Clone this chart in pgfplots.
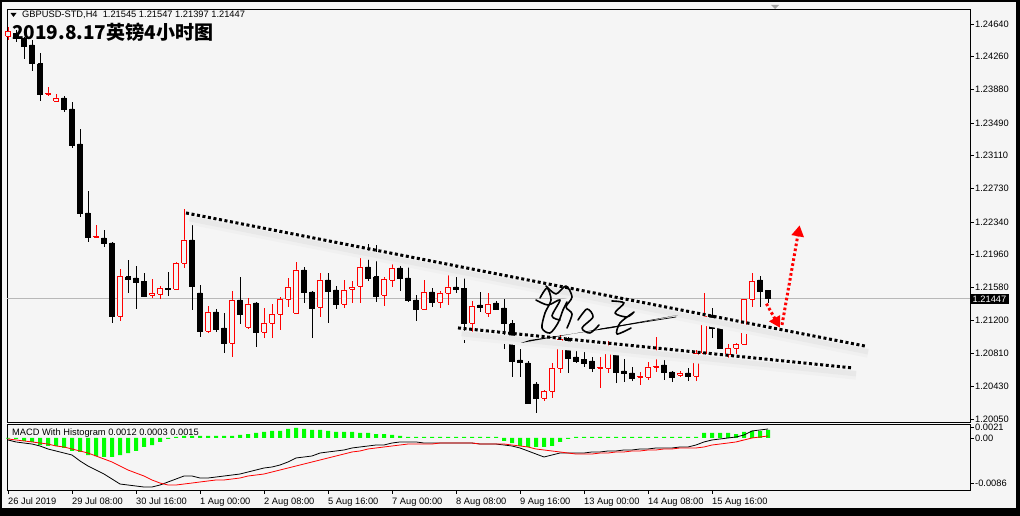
\documentclass[border=0pt]{standalone}
\usepackage{pgfplots}
\pgfplotsset{compat=1.18}
\usepackage{pgfplotstable}
\usepackage{fontspec}
\setmainfont{Liberation Sans}
\newfontfamily\cjk{Noto Sans CJK SC}
\usetikzlibrary{arrows.meta}
\definecolor{bgc}{RGB}{245,245,245}
\definecolor{candR}{RGB}{255,0,0}
\definecolor{lime}{RGB}{0,255,0}
\newcommand\tf{\fontsize{9.3}{10}\selectfont}
% candle: index, open, high, low, close
\newcommand{\candU}[5]{%
\addplot[candR, line width=0.8pt, forget plot] coordinates {(#1.5,#4) (#1.5,#3)};
\addplot[candR, line width=0.8pt, fill=bgc, forget plot] coordinates {(#1.22,#2) (#1.78,#2) (#1.78,#5) (#1.22,#5) (#1.22,#2)};}
\newcommand{\candD}[5]{%
\addplot[black, line width=0.8pt, forget plot] coordinates {(#1.5,#4) (#1.5,#3)};
\addplot[black, line width=0.8pt, fill=black, forget plot] coordinates {(#1.22,#2) (#1.78,#2) (#1.78,#5) (#1.22,#5) (#1.22,#2)};}

\pgfplotstableread{
x macd sig hist
0.5 -0.00038 -0.00019 -0.00010
1.5 -0.00076 -0.00038 -0.00019
2.5 -0.00096 -0.00057 -0.00057
3.5 -0.00115 -0.00076 -0.00076
4.5 -0.00153 -0.00096 -0.00134
5.5 -0.00210 -0.00115 -0.00153
6.5 -0.00248 -0.00153 -0.00153
7.5 -0.00287 -0.00172 -0.00191
8.5 -0.00325 -0.00210 -0.00248
9.5 -0.00439 -0.00248 -0.00267
10.5 -0.00535 -0.00287 -0.00325
11.5 -0.00611 -0.00344 -0.00344
12.5 -0.00688 -0.00401 -0.00363
13.5 -0.00783 -0.00458 -0.00363
14.5 -0.00879 -0.00535 -0.00325
15.5 -0.00898 -0.00611 -0.00287
16.5 -0.00917 -0.00669 -0.00248
17.5 -0.00936 -0.00726 -0.00172
18.5 -0.00936 -0.00802 -0.00134
19.5 -0.00898 -0.00860 -0.00076
20.5 -0.00840 -0.00898 -0.00019
21.5 -0.00783 -0.00898 0.00019
22.5 -0.00726 -0.00879 0.00038
23.5 -0.00726 -0.00860 0.00038
24.5 -0.00764 -0.00840 0.00038
25.5 -0.00764 -0.00821 0.00038
26.5 -0.00745 -0.00802 0.00038
27.5 -0.00726 -0.00802 0.00038
28.5 -0.00707 -0.00783 0.00038
29.5 -0.00688 -0.00764 0.00057
30.5 -0.00649 -0.00726 0.00076
31.5 -0.00611 -0.00707 0.00096
32.5 -0.00573 -0.00688 0.00115
33.5 -0.00554 -0.00649 0.00134
34.5 -0.00516 -0.00611 0.00134
35.5 -0.00458 -0.00573 0.00172
36.5 -0.00382 -0.00535 0.00191
37.5 -0.00363 -0.00497 0.00172
38.5 -0.00344 -0.00458 0.00153
39.5 -0.00287 -0.00420 0.00153
40.5 -0.00267 -0.00382 0.00134
41.5 -0.00248 -0.00344 0.00115
42.5 -0.00229 -0.00306 0.00115
43.5 -0.00191 -0.00267 0.00115
44.5 -0.00172 -0.00248 0.00096
45.5 -0.00153 -0.00210 0.00096
46.5 -0.00134 -0.00191 0.00076
47.5 -0.00134 -0.00172 0.00076
48.5 -0.00096 -0.00153 0.00057
49.5 -0.00076 -0.00134 0.00038
50.5 -0.00076 -0.00115 0.00019
51.5 -0.00076 -0.00115 0.00019
52.5 -0.00096 -0.00115 0.00019
53.5 -0.00096 -0.00115 0.00019
54.5 -0.00096 -0.00096 0.00019
55.5 -0.00096 -0.00096 0.00019
56.5 -0.00096 -0.00096 0.00019
57.5 -0.00096 -0.00096 0.00019
58.5 -0.00096 -0.00096 0.00019
59.5 -0.00115 -0.00115 0.00019
60.5 -0.00115 -0.00115 0.00019
61.5 -0.00115 -0.00115 0.00019
62.5 -0.00134 -0.00115 -0.00057
63.5 -0.00153 -0.00134 -0.00096
64.5 -0.00191 -0.00153 -0.00153
65.5 -0.00248 -0.00172 -0.00172
66.5 -0.00306 -0.00210 -0.00172
67.5 -0.00363 -0.00229 -0.00172
68.5 -0.00325 -0.00248 -0.00153
69.5 -0.00287 -0.00267 -0.00076
70.5 -0.00287 -0.00287 -0.00019
71.5 -0.00287 -0.00306 0.00019
72.5 -0.00287 -0.00306 0.00019
73.5 -0.00267 -0.00306 0.00019
74.5 -0.00267 -0.00287 0.00019
75.5 -0.00248 -0.00287 0.00019
76.5 -0.00248 -0.00267 0.00019
77.5 -0.00229 -0.00267 0.00019
78.5 -0.00229 -0.00248 0.00019
79.5 -0.00210 -0.00248 0.00019
80.5 -0.00210 -0.00229 0.00019
81.5 -0.00191 -0.00229 0.00019
82.5 -0.00191 -0.00210 0.00019
83.5 -0.00191 -0.00210 0.00019
84.5 -0.00172 -0.00191 0.00019
85.5 -0.00172 -0.00191 0.00019
86.5 -0.00134 -0.00191 0.00019
87.5 -0.00076 -0.00172 0.00096
88.5 -0.00038 -0.00134 0.00096
89.5 -0.00019 -0.00115 0.00096
90.5 0.00000 -0.00096 0.00096
91.5 0.00019 -0.00076 0.00076
92.5 0.00057 -0.00038 0.00115
93.5 0.00134 0.00000 0.00134
94.5 0.00153 0.00019 0.00134
95.5 0.00172 0.00038 0.00153
}\macdtab

\begin{document}
\begin{tikzpicture}
\fill[black] (0pt,0pt) rectangle (1020pt,516pt);
\fill[bgc] (2pt,8pt) rectangle (1016pt,514pt);

\begin{axis}[at={(7pt,94pt)}, anchor=south west, scale only axis,
  width=963pt, height=413pt,
  xmin=0.375, xmax=120.75, ymin=1.20015, ymax=1.24814,
  axis background/.style={fill=bgc},
  axis line style={black, line width=0.8pt},
  xtick=\empty, scaled y ticks=false,
  ytick={1.2005,1.2043,1.2081,1.2120,1.2158,1.2196,1.2234,1.2273,1.2311,1.2349,1.2388,1.2426,1.2464},
  yticklabels={1.20050,1.20430,1.20810,1.21200,1.21580,1.21960,1.22340,1.22730,1.23110,1.23490,1.23880,1.24260,1.24640},
  ytick pos=right, yticklabel pos=right,
  tick align=outside, major tick length=4pt,
  tick style={black, line width=0.6pt},
  yticklabel style={font=\tf, anchor=west, inner xsep=1pt},
  clip=false]
\addplot[black!28, line width=0.7pt, forget plot] coordinates {(0.375,1.21447) (120.75,1.21447)};
\candU{0}{1.24500}{1.24606}{1.24454}{1.24558}
\candD{1}{1.24535}{1.24570}{1.24431}{1.24489}
\candD{2}{1.24477}{1.24489}{1.24233}{1.24384}
\candD{3}{1.24396}{1.24454}{1.24094}{1.24176}
\candD{4}{1.24176}{1.24303}{1.23745}{1.23827}
\candU{5}{1.23827}{1.23908}{1.23803}{1.23838}
\candU{6}{1.23745}{1.23827}{1.23734}{1.23780}
\candD{7}{1.23780}{1.23803}{1.23618}{1.23652}
\candD{8}{1.23652}{1.23734}{1.23199}{1.23234}
\candD{9}{1.23246}{1.23420}{1.22398}{1.22444}
\candD{10}{1.22444}{1.22699}{1.22107}{1.22165}
\candU{11}{1.22165}{1.22305}{1.22153}{1.22176}
\candD{12}{1.22153}{1.22246}{1.22049}{1.22095}
\candD{13}{1.22095}{1.22107}{1.21166}{1.21247}
\candU{14}{1.21247}{1.21793}{1.21189}{1.21712}
\candD{15}{1.21701}{1.21898}{1.21514}{1.21677}
\candD{16}{1.21689}{1.21828}{1.21328}{1.21642}
\candD{17}{1.21653}{1.21747}{1.21470}{1.21479}
\candU{18}{1.21491}{1.21677}{1.21456}{1.21514}
\candU{19}{1.21503}{1.21595}{1.21444}{1.21572}
\candD{20}{1.21572}{1.21759}{1.21479}{1.21560}
\candU{21}{1.21560}{1.21875}{1.21549}{1.21863}
\candU{22}{1.21863}{1.22490}{1.21805}{1.22130}
\candD{23}{1.22130}{1.22444}{1.21317}{1.21595}
\candD{24}{1.21514}{1.21607}{1.21003}{1.21072}
\candU{25}{1.21072}{1.21363}{1.21049}{1.21294}
\candD{26}{1.21294}{1.21328}{1.21061}{1.21096}
\candD{27}{1.21108}{1.21282}{1.20817}{1.20933}
\candU{28}{1.20933}{1.21537}{1.20771}{1.21433}
\candD{29}{1.21433}{1.21701}{1.21155}{1.21271}
\candU{30}{1.21120}{1.21456}{1.21096}{1.21387}
\candD{31}{1.21398}{1.21405}{1.20887}{1.21061}
\candU{32}{1.21061}{1.21340}{1.20991}{1.21166}
\candU{33}{1.21166}{1.21387}{1.20991}{1.21271}
\candU{34}{1.21271}{1.21468}{1.21084}{1.21444}
\candU{35}{1.21444}{1.21689}{1.21352}{1.21584}
\candU{36}{1.21282}{1.21875}{1.21282}{1.21782}
\candD{37}{1.21782}{1.21817}{1.21398}{1.21526}
\candD{38}{1.21526}{1.21537}{1.20991}{1.21340}
\candU{39}{1.21352}{1.21747}{1.21236}{1.21665}
\candD{40}{1.21665}{1.21747}{1.21166}{1.21537}
\candD{41}{1.21549}{1.21595}{1.21328}{1.21387}
\candU{42}{1.21387}{1.21665}{1.21340}{1.21549}
\candU{43}{1.21560}{1.21653}{1.21398}{1.21584}
\candU{44}{1.21595}{1.21933}{1.21398}{1.21817}
\candD{45}{1.21817}{1.22084}{1.21653}{1.21689}
\candD{46}{1.21701}{1.22072}{1.21410}{1.21479}
\candU{47}{1.21491}{1.21701}{1.21363}{1.21677}
\candU{48}{1.21665}{1.21898}{1.21584}{1.21805}
\candD{49}{1.21805}{1.21886}{1.21537}{1.21689}
\candD{50}{1.21689}{1.21875}{1.21410}{1.21433}
\candD{51}{1.21433}{1.21491}{1.21189}{1.21328}
\candU{52}{1.21328}{1.21665}{1.21317}{1.21526}
\candD{53}{1.21526}{1.21572}{1.21352}{1.21410}
\candU{54}{1.21410}{1.21537}{1.21340}{1.21514}
\candU{55}{1.21514}{1.21747}{1.21375}{1.21584}
\candD{56}{1.21584}{1.21828}{1.21514}{1.21560}
\candD{57}{1.21572}{1.21736}{1.20933}{1.21166}
\candU{58}{1.21166}{1.21421}{1.21049}{1.21363}
\candD{59}{1.21375}{1.21526}{1.21294}{1.21352}
\candU{60}{1.21282}{1.21514}{1.21236}{1.21387}
\candD{61}{1.21398}{1.21421}{1.21317}{1.21328}
\candD{62}{1.21340}{1.21444}{1.20863}{1.21155}
\candD{63}{1.21155}{1.21201}{1.20539}{1.20724}
\candD{64}{1.20736}{1.20863}{1.20539}{1.20713}
\candD{65}{1.20701}{1.20724}{1.20225}{1.20236}
\candD{66}{1.20457}{1.20480}{1.20120}{1.20294}
\candU{67}{1.20294}{1.20387}{1.20259}{1.20375}
\candU{68}{1.20375}{1.20701}{1.20294}{1.20643}
\candU{69}{1.20643}{1.21026}{1.20585}{1.20979}
\candD{70}{1.20991}{1.21003}{1.20585}{1.20759}
\candD{71}{1.20771}{1.20840}{1.20701}{1.20724}
\candD{72}{1.20747}{1.20829}{1.20655}{1.20701}
\candD{73}{1.20724}{1.20771}{1.20597}{1.20643}
\candU{74}{1.20643}{1.20771}{1.20410}{1.20655}
\candU{75}{1.20643}{1.20956}{1.20585}{1.20863}
\candD{76}{1.20863}{1.20887}{1.20468}{1.20597}
\candD{77}{1.20608}{1.20747}{1.20480}{1.20585}
\candD{78}{1.20585}{1.20655}{1.20491}{1.20527}
\candU{79}{1.20539}{1.20597}{1.20445}{1.20550}
\candU{80}{1.20539}{1.20713}{1.20503}{1.20655}
\candU{81}{1.20655}{1.21003}{1.20597}{1.20666}
\candD{82}{1.20678}{1.20736}{1.20503}{1.20597}
\candD{83}{1.20597}{1.20608}{1.20480}{1.20539}
\candU{84}{1.20562}{1.20608}{1.20539}{1.20585}
\candD{85}{1.20585}{1.20643}{1.20491}{1.20550}
\candU{86}{1.20550}{1.20852}{1.20491}{1.20817}
\candU{87}{1.20817}{1.21514}{1.20806}{1.21247}
\candD{88}{1.21259}{1.21340}{1.20991}{1.21108}
\candD{89}{1.21108}{1.21201}{1.20870}{1.20875}
\candU{90}{1.20806}{1.20922}{1.20747}{1.20875}
\candU{91}{1.20875}{1.20933}{1.20806}{1.20922}
\candU{92}{1.20922}{1.21450}{1.20915}{1.21444}
\candU{93}{1.21444}{1.21747}{1.21352}{1.21653}
\candD{94}{1.21665}{1.21712}{1.21352}{1.21537}
\candD{95}{1.21545}{1.21547}{1.21397}{1.21447}
% trend line shadows
\addplot[black!6, line width=9pt, forget plot] coordinates {(23.3,1.22360) (108.0,1.20815)};
\addplot[black!9, line width=5pt, forget plot] coordinates {(23.2,1.22375) (108.0,1.20830)};
\addplot[black!6, line width=9pt, forget plot] coordinates {(57.3,1.21025) (106.5,1.20560)};
\addplot[black!9, line width=5pt, forget plot] coordinates {(57.2,1.21040) (106.5,1.20575)};
% trend lines
\addplot[black, line width=3pt, dash pattern=on 3pt off 2.6pt, forget plot] coordinates {(22.75,1.22444) (107.6,1.20898)};
\addplot[black, line width=3pt, dash pattern=on 3pt off 2.6pt, forget plot] coordinates {(56.75,1.21108) (106.1,1.20643)};
% red arrows
\addplot[candR, line width=3pt, dash pattern=on 2.6pt off 2.4pt, -{Triangle[length=11pt,width=12pt]}, forget plot] coordinates {(95.3,1.21390) (97.0,1.21110)};
\addplot[candR, line width=3pt, dash pattern=on 2.6pt off 2.4pt, -{Triangle[length=11pt,width=12pt]}, forget plot] coordinates {(97.25,1.21143) (99.45,1.22300)};
\node[fill=black, text=white, font=\tf, anchor=west, inner xsep=2.5pt, inner ysep=2pt] at (axis cs:120.75,1.21447) {1.21447};
\end{axis}

\begin{axis}[at={(7pt,26pt)}, anchor=south west, scale only axis,
  width=963pt, height=66pt,
  xmin=0.375, xmax=120.75, ymin=-0.00993, ymax=0.00267,
  axis background/.style={fill=bgc},
  axis line style={black, line width=0.8pt},
  xtick={0.5,8.5,16.5,24.5,32.5,40.5,48.5,56.5,64.5,72.5,80.5,88.5},
  xticklabels={26 Jul 2019,29 Jul 08:00,30 Jul 16:00,1 Aug 00:00,2 Aug 08:00,5 Aug 16:00,7 Aug 00:00,8 Aug 08:00,9 Aug 16:00,13 Aug 00:00,14 Aug 08:00,15 Aug 16:00},
  xtick pos=left, ytick pos=right, yticklabel pos=right,
  tick align=outside, major tick length=4pt,
  tick style={black, line width=0.6pt},
  xticklabel style={font=\tf, anchor=north west, inner xsep=0pt},
  scaled y ticks=false,
  ytick={-0.0086,0,0.0021}, yticklabels={-0.0086,0.00,0.0021},
  yticklabel style={font=\tf, anchor=west, inner xsep=1pt},
  clip=false]
\addplot[ybar, bar width=0.5, fill=lime, draw=none, forget plot] table[x=x, y=hist] {\macdtab};
\addplot[black, line width=0.8pt, forget plot] table[x=x, y=macd] {\macdtab};
\addplot[candR, line width=0.8pt, forget plot] table[x=x, y=sig] {\macdtab};
\end{axis}

% header texts
\fill[black] (10.5pt,503pt) -- (16.5pt,503pt) -- (13.5pt,499pt) -- cycle;
\node[anchor=west, font=\tf, inner sep=0pt] at (22pt,501pt) {GBPUSD-STD,H4\ \ 1.21545 1.21547 1.21397 1.21447};
\node[anchor=west, inner sep=0pt] at (12pt,484pt) {\cjk\bfseries\fontsize{19}{19}\selectfont 2019.8.17英镑4小时图};
\node[anchor=west, font=\tf, inner sep=0pt] at (12pt,82.5pt) {MACD With Histogram 0.0012 0.0003 0.0015};
\fill[black!35] (771pt,511pt) -- (779pt,511pt) -- (775pt,507pt) -- cycle;

% hand signature
\begin{scope}[shift={(0pt,516pt)}, x=1pt, y=-1pt, line width=1.6pt, line cap=round, line join=round]
\draw plot[smooth] coordinates {(540,298) (547,288) (551,300) (545,313) (542,328) (550,333) (558,323) (563,310) (567,302)};
\draw plot[smooth] coordinates {(546,286) (556,294) (566,286) (572,297) (566,307) (572,314) (567,328)};
\draw plot[smooth] coordinates {(536,300) (548,305) (560,300) (552,316) (560,320)};
\draw plot[smooth] coordinates {(578,320) (587,309) (593,317) (582,328) (590,333) (599,325)};
\draw plot[smooth] coordinates {(612,301) (624,303) (615,313) (627,317) (634,312) (620,323) (617,334) (631,328)};
\fill (521,343) -- (678,315) -- (612,328) -- (530,340) -- cycle;
\draw[line width=0.7pt] (600,329) -- (676,317);
\end{scope}
\end{tikzpicture}
\end{document}
